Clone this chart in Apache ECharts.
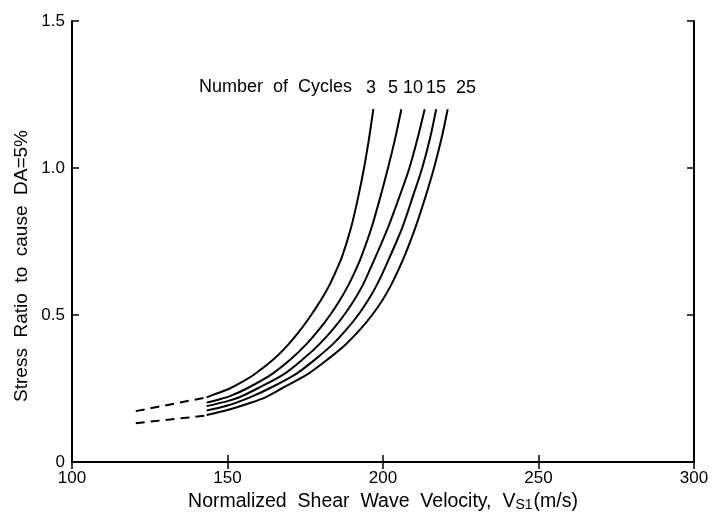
<!DOCTYPE html>
<html>
<head>
<meta charset="utf-8">
<script src="https://cdn.jsdelivr.net/npm/echarts@6/dist/echarts.min.js"></script>
<style>html,body{margin:0;padding:0;background:#fff}#c{width:721px;height:513px}</style>
</head>
<body>
<div id="c"></div>
<script>
// ---- data ----
const cycleLabels = ['3', '5', '10', '15', '25'];
const xTicks = [100, 150, 200, 250, 300];
const yTicks = [0, 0.5, 1.0, 1.5];

// [Vs1 (m/s), stress ratio]
const curve3 = [[143.3,0.220],[146.5,0.233],[150.7,0.250],[155,0.274],[158.9,0.300],[164.9,0.350],[169.6,0.400],[173.5,0.450],[176.9,0.500],[180.0,0.550],[182.7,0.600],[184.9,0.650],[186.9,0.700],[189.8,0.800],[192.0,0.900],[193.9,1.000],[195.5,1.100],[196.9,1.200]];
const curve5 = [[143.3,0.202],[147,0.212],[151,0.225],[156.2,0.250],[164.4,0.300],[170.4,0.350],[175.3,0.400],[179.4,0.450],[183.0,0.500],[186.1,0.550],[188.8,0.600],[191.1,0.650],[193.1,0.700],[196.4,0.800],[199.1,0.900],[201.6,1.000],[203.9,1.100],[205.9,1.200]];
const curve10 = [[143.3,0.190],[150,0.207],[154,0.221],[159.6,0.250],[168.3,0.300],[174.3,0.350],[179.5,0.400],[183.8,0.450],[187.5,0.500],[190.7,0.550],[193.4,0.600],[195.6,0.650],[197.7,0.700],[201.7,0.800],[205.2,0.900],[208.5,1.000],[211.1,1.100],[213.4,1.200]];
const curve15 = [[143.3,0.175],[150,0.192],[157.2,0.220],[163.4,0.250],[172.1,0.300],[178.3,0.350],[183.8,0.400],[188.2,0.450],[192.0,0.500],[195.2,0.550],[197.9,0.600],[200.2,0.650],[202.3,0.700],[206.3,0.800],[209.5,0.900],[212.6,1.000],[215.1,1.100],[217.1,1.200]];
const curve25 = [[143.3,0.160],[150,0.177],[157.0,0.200],[162.0,0.219],[167.4,0.250],[175.9,0.300],[182.3,0.350],[188.0,0.400],[192.6,0.450],[196.5,0.500],[199.8,0.550],[202.5,0.600],[204.8,0.650],[206.9,0.700],[210.5,0.800],[213.6,0.900],[216.4,1.000],[218.8,1.100],[220.8,1.200]];
const dashUpper = [[120.5,0.173],[143.3,0.220]];
const dashLower = [[120.5,0.132],[143.3,0.158]];

const curves = [curve3, curve5, curve10, curve15, curve25];

const FONT = 'Liberation Sans, Arial, Helvetica, sans-serif';
const chart = echarts.init(document.getElementById('c'), null, {renderer: 'canvas'});

const series = curves.map((d, i) => ({
  name: cycleLabels[i], type: 'line', data: d, smooth: 0.3, symbol: 'none',
  lineStyle: {color: '#000', width: 2}, xAxisIndex: 0, yAxisIndex: 0, silent: true
}));
[dashUpper, dashLower].forEach(d => series.push({
  type: 'line', data: d, symbol: 'none',
  lineStyle: {color: '#000', width: 2, type: [9, 6]}, xAxisIndex: 0, yAxisIndex: 0, silent: true
}));

const labelX = [371, 393, 413, 436, 466];
const graphics = [
  {type: 'text', left: 199, top: 78, style: {text: 'Number  of  Cycles', font: '18px ' + FONT, fill: '#000'}},
  {type: 'text', x: 22, y: 266, rotation: Math.PI / 2,
   style: {text: 'Stress  Ratio  to  cause  DA=5%', font: '19px ' + FONT, fill: '#000', align: 'center', verticalAlign: 'middle'}}
];
cycleLabels.forEach((t, i) => graphics.push({type: 'text', x: labelX[i], y: 88,
  style: {text: t, font: '18px ' + FONT, fill: '#000', align: 'center', verticalAlign: 'middle'}}));

const axisCommon = {
  type: 'value', axisLine: {show: true, lineStyle: {color: '#000', width: 2}},
  axisTick: {show: true, inside: true, length: 7, lineStyle: {color: '#000', width: 1.5}},
  splitLine: {show: false}
};

chart.setOption({
  animation: false,
  backgroundColor: '#fff',
  grid: {left: 72, right: 27, top: 21, bottom: 51, outerBoundsMode: 'none', containLabel: false},
  xAxis: [
    Object.assign({}, axisCommon, {position: 'bottom', min: xTicks[0], max: xTicks[xTicks.length-1], interval: 50,
      axisLabel: {color: '#000', fontSize: 17, fontFamily: FONT, margin: 8},
      name: 'Normalized  Shear  Wave  Velocity,  V{s|S1}(m/s)', nameLocation: 'middle', nameGap: 25,
      nameTextStyle: {color: '#000', fontSize: 19.5, fontFamily: FONT, verticalAlign: 'top',
        rich: {s: {fontSize: 14, fontFamily: FONT, color: '#000', verticalAlign: 'bottom', padding: [6, 1, 0, 0]}}}}),
    Object.assign({}, axisCommon, {position: 'top', min: xTicks[0], max: xTicks[xTicks.length-1], interval: 50,
      axisLabel: {show: false}})
  ],
  yAxis: [
    Object.assign({}, axisCommon, {position: 'left', min: yTicks[0], max: yTicks[yTicks.length-1], interval: 0.5,
      axisLabel: {color: '#000', fontSize: 17, fontFamily: FONT, margin: 7,
        formatter: v => (v === 0 ? '0' : v.toFixed(1))}}),
    Object.assign({}, axisCommon, {position: 'right', min: yTicks[0], max: yTicks[yTicks.length-1], interval: 0.5,
      axisLabel: {show: false}})
  ],
  graphic: graphics,
  series: series
});
</script>
</body>
</html>
